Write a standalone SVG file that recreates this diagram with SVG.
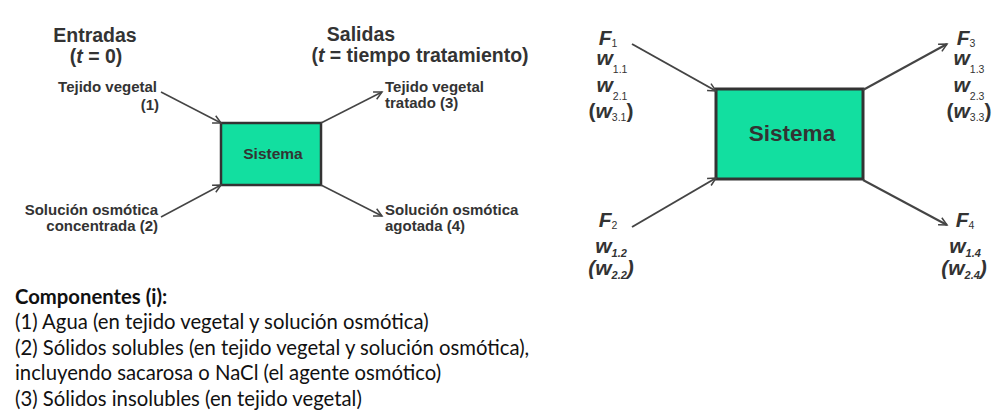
<svg xmlns="http://www.w3.org/2000/svg" width="999" height="416" viewBox="0 0 999 416">
<style>
  .h { font-family: "Liberation Sans", Arial, sans-serif; font-weight: bold; fill: #333; }
  .t { font-size: 19.5px; }
  .l { font-size: 15px; }
  .v { font-family: "Liberation Sans", Arial, sans-serif; font-weight: bold; font-style: italic; fill: #333; font-size: 21px; }
  .s { font-size: 10.5px; font-style: normal; font-weight: normal; }
  .si { font-size: 11px; }
  .box { fill: #12dfa0; stroke: #333; }
  .c { stroke: #444; fill: none; }
  .b { font-family: Lato, "Open Sans", sans-serif; font-size: 20.3px; fill: #111; }
</style>
<defs>
  <marker id="ah" markerUnits="userSpaceOnUse" markerWidth="12" markerHeight="12" refX="9" refY="5" orient="auto">
    <path d="M1,1 L9,5 L1,9" fill="none" stroke="#444" stroke-width="1.5"/>
  </marker>
</defs>

<!-- Left diagram -->
<g id="titles">
  <text class="h t" x="95" y="42" text-anchor="middle">Entradas</text>
  <text class="h t" x="96" y="63" text-anchor="middle">(<tspan font-style="italic">t</tspan> = 0)</text>
  <text class="h t" x="361" y="41" text-anchor="middle">Salidas</text>
  <text class="h t" x="420" y="62" text-anchor="middle">(<tspan font-style="italic">t</tspan> = tiempo tratamiento)</text>
</g>
<g id="in1">
  <text class="h l" x="157" y="92" text-anchor="end">Tejido vegetal</text>
  <text class="h l" x="159" y="110" text-anchor="end">(1)</text>
</g>
<g id="in2">
  <text class="h l" x="158" y="215" text-anchor="end">Solución osmótica</text>
  <text class="h l" x="158" y="231" text-anchor="end">concentrada (2)</text>
</g>
<g id="out3">
  <text class="h l" x="385" y="92">Tejido vegetal</text>
  <text class="h l" x="385" y="108">tratado (3)</text>
</g>
<g id="out4">
  <text class="h l" x="385" y="215">Solución osmótica</text>
  <text class="h l" x="385" y="231">agotada (4)</text>
</g>
<g id="sistema1">
  <rect class="box" x="221" y="123" width="100" height="62" stroke-width="2.5"/>
  <text class="h" font-size="15.5" x="273" y="159" text-anchor="middle">Sistema</text>
</g>

<!-- Right diagram -->
<g id="sistema2">
  <rect class="box" x="716" y="89" width="147" height="90" stroke-width="3"/>
  <text class="h" font-size="22.5" x="792" y="141" text-anchor="middle">Sistema</text>
</g>
<g id="f1">
  <text class="v" x="608" y="45" text-anchor="middle">F<tspan class="s" dy="2">1</tspan></text>
  <text class="v" x="612" y="65" text-anchor="middle">w<tspan class="s" dy="8">1.1</tspan></text>
  <text class="v" x="612" y="92" text-anchor="middle">w<tspan class="s" dy="8">2.1</tspan></text>
  <text class="v" x="611" y="118" text-anchor="middle"><tspan font-style="normal">(</tspan>w<tspan class="s" dy="3">3.1</tspan><tspan font-style="normal" dy="-3">)</tspan></text>
</g>
<g id="f2">
  <text class="v" x="608" y="227" text-anchor="middle">F<tspan class="s" dy="2">2</tspan></text>
  <text class="v" x="611" y="253" text-anchor="middle">w<tspan class="si" dy="4">1.2</tspan></text>
  <text class="v" x="611" y="275" text-anchor="middle">(w<tspan class="si" dy="4">2.2</tspan><tspan dy="-4">)</tspan></text>
</g>
<g id="f3">
  <text class="v" x="966" y="45" text-anchor="middle">F<tspan class="s" dy="2">3</tspan></text>
  <text class="v" x="969" y="65" text-anchor="middle">w<tspan class="s" dy="8">1.3</tspan></text>
  <text class="v" x="969" y="92" text-anchor="middle">w<tspan class="s" dy="8">2.3</tspan></text>
  <text class="v" x="969" y="118" text-anchor="middle"><tspan font-style="normal">(</tspan>w<tspan class="s" dy="3">3.3</tspan><tspan font-style="normal" dy="-3">)</tspan></text>
</g>
<g id="f4">
  <text class="v" x="965" y="227" text-anchor="middle">F<tspan class="s" dy="2">4</tspan></text>
  <text class="v" x="965" y="253" text-anchor="middle">w<tspan class="si" dy="4">1.4</tspan></text>
  <text class="v" x="964" y="275" text-anchor="middle">(w<tspan class="si" dy="4">2.4</tspan><tspan dy="-4">)</tspan></text>
</g>

<g id="connectors">
  <line class="c" x1="161" y1="92" x2="221" y2="123" stroke-width="1.5" marker-end="url(#ah)"/>
  <line class="c" x1="161" y1="217" x2="221" y2="185" stroke-width="1.5" marker-end="url(#ah)"/>
  <line class="c" x1="321" y1="123" x2="382" y2="92" stroke-width="1.5" marker-end="url(#ah)"/>
  <line class="c" x1="321" y1="185" x2="382" y2="216" stroke-width="1.5" marker-end="url(#ah)"/>
  <line class="c" x1="632" y1="44" x2="716" y2="91" stroke-width="2" marker-end="url(#ah)"/>
  <line class="c" x1="632" y1="227" x2="716" y2="178" stroke-width="2" marker-end="url(#ah)"/>
  <line class="c" x1="863" y1="90" x2="947" y2="44" stroke-width="2" marker-end="url(#ah)"/>
  <line class="c" x1="863" y1="180" x2="947" y2="225" stroke-width="2" marker-end="url(#ah)"/>
</g>

<g id="componentes">
  <text class="b" x="15" y="303.5" font-weight="bold">Componentes (i):</text>
  <text class="b" x="15" y="329">(1) Agua (en tejido vegetal y solución osmótica)</text>
  <text class="b" x="15" y="354.7">(2) Sólidos solubles (en tejido vegetal y solución osmótica),</text>
  <text class="b" x="15" y="380.3">incluyendo sacarosa o NaCl (el agente osmótico)</text>
  <text class="b" x="15" y="406">(3) Sólidos insolubles (en tejido vegetal)</text>
</g>
</svg>
